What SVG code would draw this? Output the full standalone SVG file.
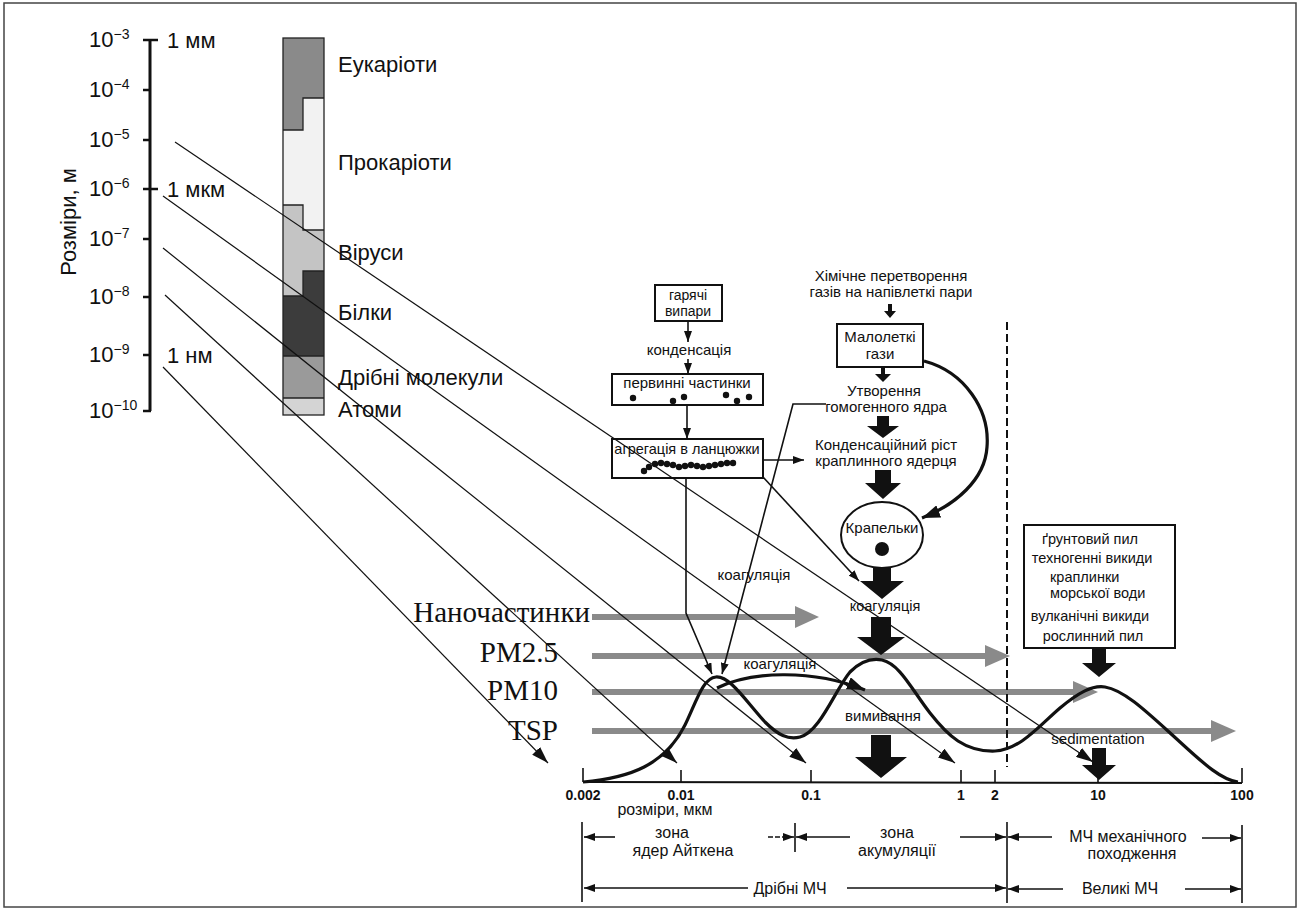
<svg xmlns="http://www.w3.org/2000/svg" width="1302" height="911" viewBox="0 0 1302 911">
<style>
text{font-family:"Liberation Sans",Arial,sans-serif;fill:#111}
.big{font-size:22px}
.sup{font-size:14px}
.f15{font-size:15px}
.f14{font-size:14.5px}
.f16{font-size:16px}
.tick{font-size:14px;font-weight:bold}
.serif{font-family:"Liberation Serif","Times New Roman",serif;font-size:29px}
.mid{text-anchor:middle}
.end{text-anchor:end}
.thin{fill:none;stroke:#111;stroke-width:1.2}
.conn{fill:none;stroke:#111;stroke-width:1.6}
.thick{fill:none;stroke:#111;stroke-width:3.2}
.box{fill:#fff;stroke:#111;stroke-width:2}
.gray{stroke:#8a8a8a;stroke-width:6}
.grayhead{fill:#8a8a8a}
.blk{fill:#111}
</style>
<defs>
<marker id="ad" viewBox="0 0 17 11" refX="17" refY="5.5" markerWidth="17" markerHeight="11" markerUnits="userSpaceOnUse" orient="auto"><path d="M0,0 L17,5.5 L0,11 z" fill="#111"/></marker>
<marker id="as" viewBox="0 0 11 8" refX="11" refY="4" markerWidth="11" markerHeight="8" markerUnits="userSpaceOnUse" orient="auto"><path d="M0,0 L11,4 L0,8 z" fill="#111"/></marker>
<marker id="az" viewBox="0 0 11 8" refX="11" refY="4" markerWidth="11" markerHeight="8" markerUnits="userSpaceOnUse" orient="auto"><path d="M0,0 L11,4 L0,8 z" fill="#111"/></marker>
<marker id="ab" viewBox="0 0 18 13" refX="18" refY="6.5" markerWidth="18" markerHeight="13" markerUnits="userSpaceOnUse" orient="auto"><path d="M0,0 L18,6.5 L0,13 z" fill="#111"/></marker>
</defs>

<rect x="4" y="3" width="1292" height="904" fill="#fff" stroke="#444" stroke-width="1.5"/>

<!-- Size scale -->
<g id="scale">
<line x1="150" y1="40" x2="150" y2="411" stroke="#111" stroke-width="3"/>
<g stroke="#111" stroke-width="2.5">
<line x1="143" y1="40" x2="158" y2="40"/>
<line x1="143" y1="90" x2="150" y2="90"/>
<line x1="143" y1="140" x2="150" y2="140"/>
<line x1="143" y1="189" x2="158" y2="189"/>
<line x1="143" y1="239" x2="150" y2="239"/>
<line x1="143" y1="297" x2="150" y2="297"/>
<line x1="143" y1="355" x2="150" y2="355"/>
<line x1="143" y1="411" x2="151" y2="411"/>
</g>
<text class="big" x="89" y="47">10<tspan class="sup" dy="-8">−3</tspan></text>
<text class="big" x="89" y="97">10<tspan class="sup" dy="-8">−4</tspan></text>
<text class="big" x="89" y="147">10<tspan class="sup" dy="-8">−5</tspan></text>
<text class="big" x="89" y="196">10<tspan class="sup" dy="-8">−6</tspan></text>
<text class="big" x="89" y="246">10<tspan class="sup" dy="-8">−7</tspan></text>
<text class="big" x="89" y="304">10<tspan class="sup" dy="-8">−8</tspan></text>
<text class="big" x="89" y="362">10<tspan class="sup" dy="-8">−9</tspan></text>
<text class="big" x="89" y="418">10<tspan class="sup" dy="-8">−10</tspan></text>
<text class="big" x="167" y="48">1 мм</text>
<text class="big" x="167" y="197">1 мкм</text>
<text class="big" x="167" y="363">1 нм</text>
<text class="big mid" transform="translate(76,222) rotate(-90)">Розміри, м</text>
</g>

<!-- Organism column -->
<g id="column">
<path d="M283,38 H324 V98 H303 V130 H283 Z" fill="#8a8a8a"/>
<path d="M303,98 H324 V230 H303 V205 H283 V130 H303 Z" fill="#f2f2f2"/>
<path d="M283,205 H303 V230 H324 V271 H303 V296 H283 Z" fill="#c4c4c4"/>
<path d="M303,271 H324 V356 H283 V296 H303 Z" fill="#3c3c3c"/>
<rect x="283" y="356" width="41" height="42" fill="#9a9a9a"/>
<rect x="283" y="398" width="41" height="17" fill="#d4d4d4"/>
<g fill="none" stroke="#222" stroke-width="1.3">
<rect x="283" y="38" width="41" height="377"/>
<path d="M324,98 H303 V130 H283"/>
<path d="M283,205 H303 V230 H324"/>
<path d="M324,271 H303 V296 H283"/>
<path d="M283,356 H324 M283,398 H324"/>
</g>
<text class="big" x="338" y="72">Еукаріоти</text>
<text class="big" x="338" y="170">Прокаріоти</text>
<text class="big" x="338" y="260">Віруси</text>
<text class="big" x="338" y="320">Білки</text>
<text class="big" x="338" y="385">Дрібні молекули</text>
<text class="big" x="338" y="417">Атоми</text>
</g>

<!-- Fraction arrows (gray) -->
<g id="fractions">
<line class="gray" x1="592" y1="617" x2="797" y2="617"/>
<polygon class="grayhead" points="795,606 819,617 795,628"/>
<line class="gray" x1="592" y1="656" x2="987" y2="656"/>
<polygon class="grayhead" points="985,645 1010,656 985,667"/>
<line class="gray" x1="592" y1="692" x2="1075" y2="692"/>
<polygon class="grayhead" points="1073,681 1098,692 1073,703"/>
<line class="gray" x1="592" y1="731" x2="1213" y2="731"/>
<polygon class="grayhead" points="1211,720 1236,731 1211,742"/>
<text class="serif end" x="590" y="622">Наночастинки</text>
<text class="serif end" x="558" y="662">PM2.5</text>
<text class="serif end" x="558" y="700">PM10</text>
<text class="serif end" x="558" y="740">TSP</text>
</g>

<!-- Size axis -->
<g id="axis">
<line x1="583" y1="782" x2="1242" y2="783" stroke="#111" stroke-width="2"/>
<g stroke="#111" stroke-width="1.6">
<line x1="583" y1="768" x2="583" y2="782"/>
<line x1="681" y1="770" x2="681" y2="782"/>
<line x1="811" y1="770" x2="811" y2="782"/>
<line x1="961" y1="770" x2="961" y2="783"/>
<line x1="995" y1="770" x2="995" y2="783"/>
<line x1="1098" y1="770" x2="1098" y2="783"/>
<line x1="1242" y1="768" x2="1242" y2="783"/>
</g>
<text class="tick mid" x="583" y="800">0.002</text>
<text class="tick mid" x="681" y="800">0.01</text>
<text class="tick mid" x="811" y="800">0.1</text>
<text class="tick mid" x="961" y="800">1</text>
<text class="tick mid" x="995" y="800">2</text>
<text class="tick mid" x="1098" y="800">10</text>
<text class="tick mid" x="1242" y="800">100</text>
<text class="f16 mid" x="665" y="815">розміри, мкм</text>
</g>

<!-- Size distribution curve -->
<g id="curve">
<path class="thick" d="M583,782 C630,778 665,765 685,725 C697,700 703,678 716,677 C730,676 745,700 765,722 C778,735 788,740 800,737 C820,732 835,690 850,672 C862,660 872,658 882,660 C900,664 912,690 930,713 C948,736 965,752 995,751 C1020,750 1040,725 1060,708 C1078,693 1092,685 1105,687 C1125,690 1150,715 1180,742 C1205,765 1222,780 1238,782"/>
<path class="thick" d="M717,688 C750,672 810,668 865,690" stroke-width="3" marker-end="url(#ab)"/>
<text class="f15 mid" x="780" y="669">коагуляція</text>
</g>

<!-- Zones -->
<g id="zones">
<g stroke="#111" stroke-width="1.6">
<line x1="582" y1="822" x2="582" y2="902"/>
<line x1="795" y1="823" x2="795" y2="852"/>
<line x1="1007" y1="822" x2="1007" y2="903"/>
<line x1="1242" y1="825" x2="1242" y2="903"/>
</g>
<g class="conn" stroke-width="1.5">
<line x1="615" y1="837" x2="584" y2="837" marker-end="url(#az)"/>
<line x1="768" y1="837" x2="794" y2="837" marker-end="url(#az)" stroke-dasharray="5 2"/>
<line x1="850" y1="837" x2="796" y2="837" marker-end="url(#az)"/>
<line x1="960" y1="837" x2="1006" y2="837" marker-end="url(#az)"/>
<line x1="1052" y1="837" x2="1008" y2="837" marker-end="url(#az)"/>
<line x1="1202" y1="838" x2="1241" y2="838" marker-end="url(#az)"/>
<line x1="748" y1="888" x2="584" y2="888" marker-end="url(#az)"/>
<line x1="847" y1="888" x2="1006" y2="888" marker-end="url(#az)"/>
<line x1="1063" y1="889" x2="1008" y2="889" marker-end="url(#az)"/>
<line x1="1185" y1="889" x2="1241" y2="889" marker-end="url(#az)"/>
</g>
<text class="f16 mid" x="672" y="838">зона</text>
<text class="f16 mid" x="683" y="856">ядер Айткена</text>
<text class="f16 mid" x="897" y="838">зона</text>
<text class="f16 mid" x="897" y="856">акумуляції</text>
<text class="f16 mid" x="1128" y="842">МЧ механічного</text>
<text class="f16 mid" x="1132" y="859">походження</text>
<text class="f16 mid" x="790" y="894">Дрібні МЧ</text>
<text class="f16 mid" x="1120" y="894">Великі МЧ</text>
</g>

<!-- Dashed boundary -->
<line id="boundary" x1="1007" y1="322" x2="1007" y2="767" stroke="#111" stroke-width="2" stroke-dasharray="8 4"/>

<!-- Flow nodes -->
<g id="hot-vapours">
<rect class="box" x="655" y="285" width="67" height="36"/>
<text class="mid" font-size="14" x="688" y="300">гарячі</text>
<text class="mid" font-size="14" x="688" y="316">випари</text>
</g>
<g id="condensation">
<text class="f15 mid" x="689" y="355">конденсація</text>
</g>
<g id="primary">
<rect class="box" x="612" y="374" width="151" height="31"/>
<text class="f15 mid" x="687" y="388">первинні частинки</text>
<g class="blk">
<circle cx="633" cy="398" r="3.2"/><circle cx="673" cy="401" r="3.2"/><circle cx="684" cy="397" r="3.2"/>
<circle cx="726" cy="395" r="3.2"/><circle cx="737" cy="401" r="3.2"/><circle cx="749" cy="397" r="3.2"/>
</g>
</g>
<g id="aggregation">
<rect class="box" x="612" y="439" width="151" height="39"/>
<text class="f14 mid" x="687" y="454">агрегація в ланцюжки</text>
<g class="blk">
<circle cx="644" cy="471" r="3.2"/><circle cx="649" cy="467" r="3.2"/><circle cx="655" cy="464" r="3.2"/><circle cx="661" cy="463" r="3.2"/>
<circle cx="667" cy="464" r="3.2"/><circle cx="673" cy="465" r="3.2"/><circle cx="679" cy="467" r="3.2"/><circle cx="685" cy="466" r="3.2"/>
<circle cx="691" cy="465" r="3.2"/><circle cx="697" cy="466" r="3.2"/><circle cx="703" cy="467" r="3.2"/><circle cx="709" cy="466" r="3.2"/>
<circle cx="715" cy="465" r="3.2"/><circle cx="721" cy="464" r="3.2"/><circle cx="727" cy="463" r="3.2"/><circle cx="733" cy="463" r="3.2"/>
</g>
</g>
<g id="chemical">
<text class="f15 mid" x="891" y="281">Хімічне перетворення</text>
<text class="f15 mid" x="891" y="297">газів на напівлеткі пари</text>
</g>
<g id="low-volatile">
<rect class="box" x="837" y="324" width="86" height="43"/>
<text class="f15 mid" x="880" y="342">Малолеткі</text>
<text class="f15 mid" x="880" y="359">гази</text>
</g>
<g id="nucleation">
<text class="f15 mid" x="884" y="396">Утворення</text>
<text class="f15 mid" x="886" y="412">гомогенного ядра</text>
</g>
<g id="growth">
<text class="f15 mid" x="886" y="450">Конденсаційний ріст</text>
<text class="f15 mid" x="886" y="466">краплинного ядерця</text>
</g>
<g id="droplets">
<ellipse cx="882" cy="535" rx="41" ry="33" fill="#fff" stroke="#111" stroke-width="2"/>
<text class="f15 mid" x="882" y="533">Крапельки</text>
<circle cx="882" cy="549" r="7" class="blk"/>
</g>
<g id="mech-sources">
<rect class="box" x="1024" y="525" width="151" height="123"/>
<text class="f14 mid" x="1090" y="544">ґрунтовий пил</text>
<text class="f14 mid" x="1092" y="563">техногенні викиди</text>
<text class="f14" x="1050" y="582">краплинки</text>
<text class="f14" x="1050" y="598">морської води</text>
<text class="f14 mid" x="1090" y="621">вулканічні викиди</text>
<text class="f14 mid" x="1093" y="641">рослинний пил</text>
</g>
<g id="process-labels">
<text class="f15 mid" x="754" y="580">коагуляція</text>
<text class="f14 mid" x="885" y="611">коагуляція</text>
<text class="f15 mid" x="883" y="721">вимивання</text>
<text class="f15 mid" x="1098" y="744">sedimentation</text>
</g>

<!-- Connectors -->
<g id="connectors">
<line class="thin" x1="175" y1="142" x2="1093" y2="762" marker-end="url(#ad)"/>
<line class="thin" x1="163" y1="196" x2="955" y2="763" marker-end="url(#ad)"/>
<line class="thin" x1="163" y1="248" x2="806" y2="763" marker-end="url(#ad)"/>
<line class="thin" x1="165" y1="295" x2="677" y2="763" marker-end="url(#ad)"/>
<line class="thin" x1="163" y1="367" x2="548" y2="763" marker-end="url(#ad)"/>
<line class="conn" x1="688" y1="321" x2="688" y2="342" marker-end="url(#as)"/>
<line class="conn" x1="688" y1="359" x2="688" y2="374" marker-end="url(#as)"/>
<line class="conn" x1="687" y1="405" x2="687" y2="439" marker-end="url(#as)"/>
<line class="conn" x1="763" y1="460" x2="804" y2="460" marker-end="url(#as)"/>
<path class="conn" d="M686,478 V613 L712,674" marker-end="url(#as)"/>
<path class="conn" d="M826,404 H793 L722,674" marker-end="url(#as)"/>
<line class="conn" x1="763" y1="477" x2="859" y2="581" marker-end="url(#as)"/>
<path class="thick" d="M924,361 C965,372 990,410 987,447 C985,480 955,505 922,518" stroke-width="3.5" marker-end="url(#ab)"/>
<polygon class="blk" points="888,304 892,304 892,311 896,311 890,318 884,311 888,311"/>
<polygon class="blk" points="881,368 885,368 885,374 891,374 883,382 875,374 881,374"/>
<polygon class="blk" points="877,416 889,416 889,426 899,426 883,438 867,426 877,426"/>
<polygon class="blk" points="875,470 891,470 891,483 901,483 883,499 865,483 875,483"/>
<polygon class="blk" points="873,568 891,568 891,581 904,581 882,599 860,581 873,581"/>
<polygon class="blk" points="871,617 891,617 891,637 905,637 881,655 857,637 871,637"/>
<polygon class="blk" points="871,735 891,735 891,757 907,757 881,778 855,757 871,757"/>
<polygon class="blk" points="1092,648 1106,648 1106,663 1116,663 1099,677 1082,663 1092,663"/>
<polygon class="blk" points="1092,748 1106,748 1106,765 1116,765 1099,780 1082,765 1092,765"/>
</g>
</svg>
